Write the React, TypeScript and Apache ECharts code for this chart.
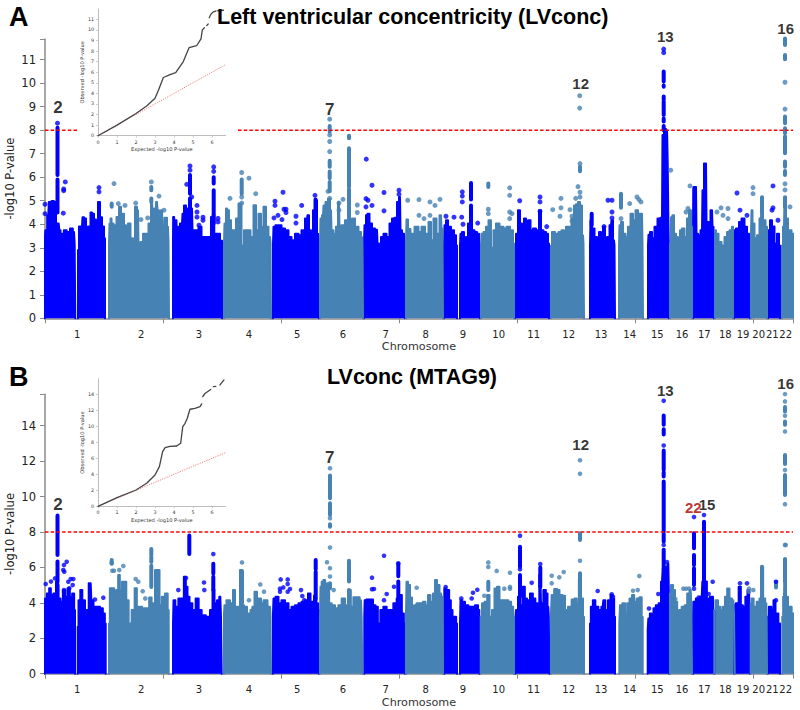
import React, { useEffect, useRef } from "react";
import * as echarts from "echarts";

const BLUE = "#0000FF";
const STEEL = "#4682B4";
const AXIS_GREY = "#8a8a8a";

// Genome position axis: one tick step = 118 position units
const positionTicks = [0, 118, 236, 354, 472, 590, 708, 748];
const chromLabelPositions = [32.3, 96.3, 154, 204, 252.3, 298, 340.7, 380.7, 418, 453.7, 488.7, 523.7, 556, 584.7, 612.3, 637, 659.3, 680.3, 698, 713.7, 727.3, 740.7];
const chromNames = ["1", "2", "3", "4", "5", "6", "7", "8", "9", "10", "11", "12", "13", "14", "15", "16", "17", "18", "19", "20", "21", "22"];
const yTicksA = [0, 1, 2, 3, 4, 5, 6, 7, 8, 9, 10, 11];
const yTicksB = [0, 2, 4, 6, 8, 10, 12, 14];
const qqXTicks = [0, 1, 2, 3, 4, 5, 6];
const qqYTicksA = [0, 1, 2, 3, 4, 5, 6, 7, 8, 9, 10, 11];
const qqYTicksB = [0, 2, 4, 6, 8, 10, 12, 14];

// ---- Panel A: envelopes of the dense point clouds, [position, -log10 P]
const blueRidgesA = [
  [[-0.3, 3.32], [1, 3.74], [3.3, 4.38], [4.3, 4.95], [6, 4.03], [7, 4.99], [9, 4.99], [10.3, 4.95], [11.7, 4.03], [13.7, 4.03], [15, 3.74], [16, 3.25], [17.7, 3.6], [20, 3.74], [23.3, 3.67], [26.7, 3.82], [29, 3.67], [30.3, 3.18]],
  [[33, 2.9], [35, 3.9], [37, 3.9], [38, 4.3], [40, 4.25], [42, 3.8], [44, 3.9], [47, 4.5], [48, 4.45], [50, 4.2], [52, 4.05], [54, 4.95], [56, 4.3], [58, 3.9], [60, 3.4]],
  [[128, 3.18], [128.3, 4.31], [130, 4.17], [133, 3.89], [137, 4.03], [138, 4.45], [140, 4.8], [142, 4.45], [143, 4.67], [145, 4.38], [147, 4.67], [148, 3.74], [152, 3.74], [155, 3.89], [158, 3.46], [162, 3.46], [165, 3.46], [167, 4.31], [168.5, 4.4], [170, 3.6], [173, 3.6], [177, 3.3]],
  [[228, 3.18], [229, 3.89], [232, 3.96], [235, 3.96], [238, 3.82], [242, 3.74], [245, 3.46], [248, 3.32], [252, 3.6], [255, 3.53], [258, 3.74], [262, 4.24], [263, 4.38], [265, 3.74], [267, 3.6], [269, 4.6], [271, 5.02], [273, 3.6], [274, 3.18]],
  [[319, 3.18], [320, 3.96], [322, 4.38], [323, 4.45], [326, 4.03], [328, 3.82], [332, 3.77], [333, 3.18], [335, 2.96], [337, 3.46], [340, 3.6], [343, 3.46], [346, 4.03], [348, 4.24], [351, 4.28], [353, 4.95], [355, 5.16], [356, 3.74], [358, 3.6], [360, 3.18]],
  [[399, 3.1], [400, 3.96], [402, 4.17], [404, 3.89], [408, 3.74], [410, 3.53], [412, 3.1]],
  [[415, 3.1], [416, 3.6], [418, 3.67], [420, 3.32], [422, 3.46], [424, 4.03], [426, 4.5], [428, 3.74], [431, 3.67], [433, 3.6], [435, 3.1]],
  [[470, 3.1], [472, 3.6], [474, 4.6], [476, 4.03], [478, 3.74], [480, 4.24], [482, 3.74], [484, 4.17], [487, 3.74], [489, 3.82], [493, 3.74], [495, 4.6], [497, 3.74], [500, 3.67], [502, 3.6], [504, 3.18]],
  [[545, 3.1], [546, 4.17], [548, 3.82], [551, 3.46], [553, 3.32], [555, 3.67], [557, 3.46], [559, 3.89], [561, 3.32], [563, 3.46], [566, 3.96], [567, 4.17], [569, 3.32], [570, 3.1]],
  [[603, 3.1], [604, 3.55], [606, 3.67], [608, 3.4], [611, 3.89], [614, 4.24], [617, 4.28], [618, 7.8], [620, 8.05], [622, 8], [622.5, 7.6], [623, 6.5], [623.5, 4.5], [624, 3.2]],
  [[648, 3.46], [649, 5.59], [651, 5.59], [652, 3.6], [654, 3.53], [657, 3.74], [658, 5.45], [660, 6.58], [661, 6.58], [662, 4.03], [664, 4.1], [667, 4.6], [668, 3.89], [669, 3.18]],
  [[689, 3.74], [693, 3.82], [695, 4.1], [698, 4.24], [701, 3.89], [703, 3.6], [705, 3.32]],
  [[723, 3], [724, 3.74], [726, 4.17], [728, 3.9], [731, 3.18], [733, 3.6], [735, 3.1]],
];
const steelRidgesA = [
  [[64, 3.18], [65, 4.03], [66, 4.25], [67, 4.03], [70, 3.96], [73, 4.31], [75, 4.74], [77, 4.17], [78, 4.45], [80, 3.96], [82, 3.74], [84, 4.03], [87, 3.4], [89, 3.18], [91, 4.74], [93, 4.6], [94, 3.18], [97, 3.25], [99, 3.6], [102, 3.6], [105, 4.03], [107, 5.02], [108, 4.45], [110, 4.67], [112, 4.95], [113, 4.6], [115, 3.89], [117, 4.6], [118, 3.89], [121, 4.28], [123, 3.89], [124, 3.18]],
  [[179, 3.2], [180, 4.03], [182, 4.67], [183, 4.6], [185, 4.17], [187, 3.74], [190, 3.74], [192, 4.24], [195, 4.88], [198, 3.1], [200, 3.74], [202, 3.74], [204, 3.74], [207, 3.46], [210, 4.81], [212, 3.74], [215, 4.45], [217, 3.89], [220, 4.74], [222, 3.89], [225, 3.46], [226, 3.18]],
  [[275, 3.18], [276, 4.24], [278, 4.38], [279, 4.8], [282, 4.95], [284, 5.09], [286, 4.6], [287, 3.74], [290, 3.6], [292, 3.89], [294, 4.95], [295, 3.89], [298, 3.96], [302, 4.17], [304, 4.6], [306, 4.17], [308, 4.24], [312, 3.89], [315, 3.67], [317, 3.46], [318, 3.1]],
  [[361, 3.3], [362, 4.2], [364, 3.8], [367, 3.6], [372, 3.89], [375, 3.67], [378, 3.89], [382, 3.6], [385, 4.1], [387, 3.32], [390, 4.24], [393, 3.6], [396, 4.38], [397, 3.82], [398, 3.18]],
  [[436, 3.1], [437, 3.6], [440, 3.67], [442, 3.89], [445, 4.17], [447, 3], [450, 3.74], [452, 4.03], [457, 3.89], [460, 3.82], [463, 3.89], [467, 3.74], [469, 3.18]],
  [[506, 3.1], [508, 3.67], [512, 3.6], [515, 3.67], [518, 3.74], [520, 3.1], [522, 3.89], [525, 3.89], [528, 4.24], [530, 4.8], [532, 4.85], [534, 4.95], [536, 4.8], [538, 3.53], [539, 3.18]],
  [[574, 3.1], [575, 3.96], [577, 4.1], [579, 3.6], [582, 3.46], [584, 3.89], [587, 4.45], [589, 4.17], [592, 4.6], [594, 4.45], [597, 4.45], [598, 3.18]],
  [[625, 3.18], [627, 4.3], [628, 4.38], [630, 3.6], [632, 3.46], [634, 3.1], [636, 3.74], [638, 3.82], [641, 3.46], [643, 4.24], [645, 4.6], [647, 3.89]],
  [[670, 3.74], [672, 3.6], [675, 3.25], [678, 3.1], [681, 3.46], [683, 3.67], [686, 3.74], [688, 3.89]],
  [[706, 3.6], [707, 4.6], [708, 4.03], [711, 3.4], [713, 3.53], [716, 4.24], [717, 5.16], [719, 4.17], [722, 3.89]],
  [[737, 3.1], [739, 3.89], [740, 5.16], [742, 4.24], [744, 3.74], [749, 3.6]],
];
// dense stacks of points: [position, low, high]
const blueColumnsA = [
  [12.5, 6.1, 8.1], [12.5, 4.5, 5.9], [145, 5.3, 6.1], [145, 4.4, 5.1], [168.7, 5.73, 6], [168.7, 4.03, 5.45],
  [270.5, 4.3, 5.05], [426, 5.05, 5.75], [426, 4.4, 4.8], [546.7, 3.96, 4.45],
  [618.7, 10.07, 10.5], [618.7, 9.85, 9.9], [618.7, 9.3, 9.43], [618.7, 8.65, 9.22], [618.7, 8.37, 8.5], [618.7, 8, 8.18],
  [660, 4, 6.5], [649.5, 4, 5.5],
];
const steelColumnsA = [
  [66.7, 4.75, 4.88], [106.3, 5.45, 5.59], [106.3, 4.95, 5.1], [196.7, 5.3, 5.9],
  [284.7, 7.95, 8.18], [284.7, 6.45, 6.7], [284.7, 5.96, 6.24], [284.7, 5.4, 5.8], [304, 7.66, 7.76], [304, 5.6, 7.23], [304, 4.3, 5.5],
  [443.3, 5.59, 5.73], [535, 6.25, 6.45], [576, 4.7, 5.3], [717, 4.5, 5.15],
  [740, 11.63, 11.9], [740, 11.02, 11.2], [740, 8.3, 8.58], [740, 7.87, 8.08], [740, 7.02, 7.73], [740, 6.45, 6.67], [740, 6.1, 6.27], [740, 4.75, 5.15],
];
const blueDotsA = [
  [12.5, 8.3], [20.3, 5.8], [18.7, 5.5], [18.7, 5.43], [18.3, 4.47], [0, 4.45], [0, 4.85], [54, 5.56], [54, 5.38],
  [145, 6.48], [145, 6.3], [141.7, 5.7], [146.7, 5.16], [152, 4.8], [152, 4.52], [152, 4.3], [158, 4.3], [158, 4.17], [154, 3.96], [168.7, 6.44], [168.7, 6.25], [173, 4.25], [173, 4.1],
  [230, 4.98], [230, 4.8], [233, 4.38], [229, 4.27], [238, 5.36], [239, 4.64], [241, 4.64], [241, 4.5], [237, 4.2], [256.7, 4.8], [251, 4.34], [251, 4.05], [270, 5.23],
  [321.3, 6.77], [321, 5.09], [323, 5.02], [327, 4.8], [321, 4.74], [327, 5.66], [339, 5.35], [339, 4.57], [354, 5.45], [354, 5.28],
  [401, 4.34], [409, 4.3], [417.3, 5.38], [417.3, 5.2], [417.3, 4.95], [416.7, 4.3], [418, 4], [432.7, 4.05],
  [474.7, 5], [495, 5.16], [495, 4.95], [495, 4.55], [501.7, 3.9], [559, 3.9], [563, 5.02], [567, 5.02], [567, 4.52], [567, 4.27],
  [618.7, 11.45], [618.7, 11.3], [692, 5.33], [695, 4.6], [702, 4.38], [728, 5.63], [727, 4.6], [728, 4.7], [733, 4.17],
];
const steelDotsA = [
  [69, 5.73], [73.3, 4.88], [80, 4.8], [90.7, 4.9], [106.3, 5.8], [114, 5.2], [119, 4.6], [102.7, 4.27], [96, 4.2],
  [204, 5.96], [210.7, 5.3], [185, 5.1], [196.7, 6.2], [196.7, 5.16], [196.7, 4.9],
  [284.7, 8.47], [284.7, 7.8], [284.7, 7.52], [284.7, 7.09], [284.7, 5.1], [283, 5.4], [298, 5.06], [294, 4.9], [294, 4.6], [312.3, 4.82], [312.3, 4.5],
  [362.7, 5.02], [374, 5.05], [385, 4.95], [390, 4.8], [395, 5.06], [374, 4.38], [379, 4.24], [385, 4.38],
  [443.3, 4.64], [443.3, 4.45], [464.7, 5.55], [464.7, 5.23], [464.7, 4.52], [467, 4.45], [464.7, 4.24],
  [534.7, 9.47], [534.7, 8.94], [533, 5.6], [535, 5.36], [535, 5.16], [535, 6.58], [516, 5.1], [516, 4.7], [507.7, 4.62], [515, 4.34], [530.7, 5.1], [527, 4.34], [527, 4.14], [525, 4.62],
  [576, 4.24], [584.7, 4.88], [592, 5.16], [594, 5.05], [596, 4.95], [625.7, 6.3], [645, 5.63], [643, 4.67], [641, 4.52],
  [672, 4.52], [676, 4.7], [678, 4.38], [683, 4.67], [683, 4.24], [708, 5.56], [708, 5.3], [745, 4.74],
  [740, 10.04], [740, 8.9], [740, 5.72], [740, 5.46],
];

// ---- Panel B
const blueRidgesB = [
  [[-0.3, 3.59], [0.3, 4.25], [3.3, 4.53], [5, 4.82], [6.7, 4.44], [10, 4.53], [12, 5.2], [14.3, 4.25], [16.7, 4.06], [19, 4.72], [21.3, 4.34], [23.7, 4.82], [26, 4.34], [28.3, 4.53], [30, 3.59]],
  [[32.7, 2.65], [34.3, 4.15], [36.3, 4.72], [38.3, 4.15], [41.7, 3.59], [45.7, 5.1], [47, 4.15], [50, 3.78], [53.3, 3.78], [56.7, 3.69], [59, 3.4], [60.7, 2.84]],
  [[128, 2.84], [129, 4.15], [131.7, 3.78], [135, 4.25], [137.7, 4.25], [140, 5.47], [141.7, 4.91], [143.3, 4.34], [145.7, 3.97], [149, 3.59], [152.3, 4.25], [155, 3.59], [158.3, 3.3], [163.3, 3.21], [166.7, 3.59], [168.3, 4.72], [170.7, 3.97], [173.3, 4.15], [175.3, 4.34], [176.7, 3.21]],
  [[228, 3.4], [229, 4.25], [232, 4.34], [235, 3.97], [238, 4.15], [242, 3.97], [245, 3.59], [248, 3.78], [252, 3.87], [255, 3.97], [258, 4.06], [262, 4.15], [264, 4.53], [267, 4.06], [271, 4.4], [272, 3.97], [274, 3.59]],
  [[319.3, 3.21], [320, 4.15], [322.7, 4.19], [326.7, 4.19], [329.3, 3.87], [331.7, 3.78], [334, 2.84], [336.7, 3.59], [340, 3.78], [343.3, 3.59], [346.7, 3.59], [350, 3.97], [353.3, 4.25], [356, 4.44], [357.7, 3.4], [360, 2.84]],
  [[399.3, 4.81], [403.3, 4.72], [405, 4.15], [406.7, 3.59], [408.3, 3.21], [410.3, 3.21], [412, 2.84]],
  [[415, 2.84], [416, 4.15], [418.3, 4.06], [421.7, 3.87], [425, 3.78], [428.3, 3.78], [431.7, 3.87], [434.3, 3.59]],
  [[470.3, 3.03], [471.7, 3.59], [474.3, 4.34], [476.7, 3.87], [479, 4.91], [480.7, 4.25], [483.3, 4.15], [486.7, 4.53], [489, 4.25], [491.7, 3.97], [493.3, 3.87], [495.3, 5.57], [496.7, 3.97], [500, 4.72], [501.7, 4.53], [503.3, 3.78], [504.3, 3.21]],
  [[545, 2.84], [546.7, 3.78], [549, 4.15], [551.7, 3.78], [555, 3.59], [557.7, 3.78], [559, 4.15], [561.7, 3.59], [564.3, 4.15], [566.7, 4.44], [568.3, 4.25], [570, 3.21]],
  [[602.7, 2.46], [604, 3.12], [605.7, 3.4], [607.7, 2.84], [609.3, 3.69], [612.3, 3.87], [615, 3.97], [617, 5.19], [618.3, 5.94], [621.7, 6.04], [623.3, 6.2], [624.3, 4.72]],
  [[648, 3.21], [648.7, 4.06], [653, 4.25], [656.7, 4.34], [658, 5.2], [660.5, 5.2], [663.3, 4.25], [666.7, 4.34], [669.3, 3.59]],
  [[689.3, 3.87], [692.3, 3.97], [695, 4.91], [696.7, 3.87], [699, 3.78], [701.7, 4.34], [703.3, 4.72], [705, 3.59]],
  [[722.7, 3.21], [725, 3.78], [727.7, 3.59], [729.3, 4.15], [731.7, 3.4], [735, 2.84]],
];
const steelRidgesB = [
  [[64, 2.84], [65.7, 4.82], [68.3, 4.82], [70, 3.59], [72.3, 4.72], [74, 5.57], [75.7, 4.72], [78.3, 5.19], [80.3, 5.19], [82.3, 4.15], [85, 2.84], [88.3, 3.59], [91, 4.82], [92.7, 3.78], [95, 3.78], [99, 3.69], [103.3, 3.69], [105, 4.3], [108.3, 3.97], [111.7, 5.85], [113.7, 5.85], [115.3, 3.87], [118.3, 4.34], [121.7, 4.53], [123.7, 3.59]],
  [[179, 3.4], [180, 3.87], [183, 4.15], [187, 3.97], [189, 4.72], [191, 3.78], [193, 3.78], [197, 5.85], [198, 3.87], [200, 3.78], [204, 3.4], [207, 3.59], [208, 3.78], [211, 4.63], [213, 4.25], [215, 4.25], [217, 3.97], [220, 4.15], [225, 3.78], [226, 3.21]],
  [[275, 3.21], [276, 4.91], [277.3, 5.19], [279.3, 5.29], [281, 4.81], [283.3, 5.1], [285, 3.97], [288.3, 3.87], [291.7, 3.69], [295, 3.87], [298.3, 4.25], [301.7, 3.87], [305, 4.72], [306.7, 3.78], [310, 4.31], [313.3, 4.31], [316, 4.15], [317.3, 3.21]],
  [[361, 3.4], [362, 5.19], [364, 5], [366, 4.3], [368, 3.78], [370, 3.87], [373, 3.97], [377, 3.97], [379, 4.06], [382, 3.87], [384, 4.44], [387, 4.06], [389, 4.53], [391, 5.29], [393, 5], [396, 4.53], [397, 4.34], [398, 3.21]],
  [[435.7, 3.21], [438.3, 3.97], [441, 4.06], [443.3, 4.44], [445.7, 3.21], [448.3, 3.59], [450.7, 4.81], [453.3, 4.91], [455.7, 4.15], [458.3, 4.15], [461.7, 4.15], [465, 4.06], [467.3, 3.78], [469, 3.21]],
  [[506, 3.4], [507.3, 4.44], [511, 4.78], [513.3, 4.72], [515.7, 4.44], [519, 4.4], [521, 3.59], [525, 3.78], [528.3, 4.19], [530.7, 4.25], [532.7, 3.97], [535, 5.38], [537, 4.25], [539, 3.21]],
  [[574.3, 2.84], [575.7, 3.87], [579, 3.97], [581, 3.4], [583.3, 3.97], [585.7, 4.25], [588.3, 4.44], [590, 4.06], [593.3, 4.25], [595.7, 4.31], [597.7, 3.21]],
  [[625, 4.53], [627, 5], [629, 4.72], [631, 4.06], [633.3, 3.21], [635, 3.59], [638.3, 3.78], [641, 3.87], [643.3, 4.53], [645.7, 4.72], [647, 3.78]],
  [[669.3, 3.59], [671.7, 4.15], [674.3, 3.78], [676.7, 3.59], [679, 3.78], [681, 4.34], [683.3, 4.81], [685.7, 4.25], [688.3, 4.15], [689.7, 3.4]],
  [[705.7, 3.97], [707.3, 4.25], [710, 3.78], [713.3, 4.06], [715.7, 4.25], [717.3, 6.04], [719, 4.25], [721.3, 3.97], [722, 3]],
  [[737.3, 3.21], [739, 4.34], [740.3, 6.48], [741.7, 4.34], [744.3, 3.78], [749, 3.4]],
];
const blueColumnsB = [
  [12.5, 6.7, 8.93], [12.5, 5.2, 6.33], [12.5, 4.25, 5], [144.3, 6.75, 7.8], [168.3, 5.66, 6.2], [168.3, 4.72, 5.47],
  [270.7, 5.9, 6.42], [270.7, 4.2, 5.75], [353.3, 5.5, 6.2], [353.3, 4.3, 5.2],
  [475, 6.04, 7.17], [475, 4.34, 5.57], [495.3, 4.9, 6],
  [618.7, 14.05, 14.58], [618.7, 13.5, 13.8], [618.7, 11.5, 12.6], [618.7, 11.13, 11.37], [618.7, 8.02, 10.85], [618.7, 7.46, 7.9], [618.7, 5.95, 7],
  [649, 7.08, 7.93], [649, 6.14, 6.7], [649, 5, 5.95], [659, 8.2, 8.58], [659, 5.2, 8.2],
];
const steelColumnsB = [
  [66.7, 6.2, 6.42], [106.3, 6.7, 7.04], [106.3, 6.3, 6.6], [106.3, 4.9, 6.1], [197, 4, 5.8], [285, 9.9, 11.19], [285, 8.96, 9.62], [285, 8.3, 8.44], [285, 4.82, 5.1],
  [304, 5.2, 6.37], [304, 3.97, 4.73], [443.3, 4.72, 5.19], [535, 7.55, 7.93], [535, 4.44, 5.67],
  [717, 4.3, 6.04], [731, 4.87, 5.19], [740, 11.83, 12.35], [740, 10.09, 11.22], [740, 14.8, 15.05], [740, 5.2, 6.48], [740, 14.05, 14.24],
];
const blueDotsB = [
  [0.7, 5.06], [6, 5.2], [10, 5.38], [21.7, 6.32], [19, 6.13], [18.3, 5.85], [19.3, 5.76], [25.7, 5.34], [28.3, 5.34], [23.3, 5.19], [27.7, 5], [24.3, 4.82], [19, 4.72], [50, 4.19], [58.3, 4.29],
  [159, 5.15], [168.3, 6.75], [159.3, 4.72], [133.3, 4.72], [141, 5.4],
  [235.7, 5.32], [242.7, 5.32], [242.7, 5.06], [238.3, 4.87], [245, 4.78], [242.7, 4.63], [256, 4.72], [257.3, 4.38], [259.3, 4.15], [235, 4.8], [235, 4.63],
  [339, 6.66], [327, 5.42], [327, 4.76], [329, 4.78], [341.7, 4.5], [339, 4.15], [349, 4.91], [353.3, 6.23], [400.7, 4.89],
  [416.3, 4.25], [426.7, 4.25], [428, 4.57], [432.3, 4.74], [475, 7.79], [475, 5.89], [495.3, 6.19], [486.7, 5.13],
  [552.7, 4.67], [566.7, 4.48], [568, 4.35], [618.7, 15.4], [618.7, 12.88], [618.7, 7.27], [622, 6.3], [613.3, 4.5], [604, 3.68],
  [649, 8.84], [659, 8.96], [649, 4.8], [667.7, 5.19], [653.7, 4.3], [663.7, 4.5], [695, 5.1], [702, 5.1], [731, 4.15], [731, 5.19],
];
const steelDotsB = [
  [66.7, 6.25], [67.3, 5.81], [69, 5.81], [74.3, 5.85], [78.3, 6.08], [90.7, 5.34], [93.3, 5.19], [97.7, 4.66], [100.3, 4.25],
  [197, 6.28], [215.3, 5.04], [219, 4.63], [204, 4.15],
  [285, 11.6], [285, 8.78], [285, 7.12], [282, 6.29], [285, 5.95], [285, 5.48], [288.7, 4.72], [371.7, 4.85],
  [443.3, 6.28], [443.3, 6.02], [439.3, 4.4], [451.7, 5.8], [465, 5.7], [465, 4.9], [465, 4.8], [459.3, 4.8],
  [535, 12.05], [535, 11.28], [535, 6.37], [506.7, 5.53], [506.7, 5.1], [514.3, 5.44], [518.7, 5.74],
  [594.3, 5.51], [592.7, 4.72], [588, 4.68], [638.3, 4.8], [641, 4.8], [644, 4.81], [630.3, 4.21], [708.3, 4.72], [704, 4.8], [704, 4.63],
  [740, 15.78], [740, 15.37], [740, 14.56], [740, 13.67], [740, 11.5], [740, 9.57], [740, 7.27], [740.7, 7.26],
];

// ---- Significance line segments (the first panel's line stops behind its inset)
const sigA = [[0, 8], [32, 8], ["-", "-"], [193, 8], [748, 8]];
const sigB = [[0, 8], [748, 8]];

// ---- Locus numbers: [position, value, text]
const lociBigA = [[13, 8.98, "2"], [284.7, 8.9, "7"]];
const lociA = [[535.7, 9.97, "12"], [620.3, 11.99, "13"], [740.7, 12.34, "16"]];
const lociBigB = [[13, 9.53, "2"], [284.7, 12.2, "7"]];
const lociB = [[535.7, 12.92, "12"], [620.3, 15.97, "13"], [740.7, 16.38, "16"], [662, 9.57, "15"]];
const lociRedB = [[648.3, 9.38, "22"]];

// ---- QQ insets: [expected, observed]
const qqA = [[0, 0], [1, 1], [2, 2.1], [2.56, 2.8], [3, 3.53], [3.18, 4.3], [3.44, 5.5], [3.79, 5.77], [4.09, 5.96], [4.49, 7], [4.79, 8.32], [5.19, 8.5], [5.42, 9.15], [5.49, 10], [5.6, 10.2], ["-", "-"], [5.72, 10.4], [5.8, 10.55], ["-", "-"], [5.85, 11.15], [5.95, 11.5], [6.07, 11.7], [6.2, 11.78], ["-", "-"], [6.28, 11.8], [6.6, 11.85]];
const qqB = [[0, 0], [1, 1.08], [2, 2.04], [2.56, 2.88], [3, 3.92], [3.23, 4.96], [3.4, 6.83], [3.53, 7.33], [3.79, 7.5], [4.14, 7.54], [4.35, 7.88], [4.46, 9.96], [4.58, 10.38], [4.7, 11], [4.84, 12.13], [5.1, 12.25], [5.37, 12.46], [5.46, 12.8], ["-", "-"], [5.51, 13.7], [5.63, 14.1], [5.93, 14.6], ["-", "-"], [6.07, 14.96], [6.2, 15], ["-", "-"], [6.42, 15.17], [6.63, 15.8]];
const qqDiagonal = [[0, 0], [6.72, 6.72]];

const GAP = ["-", "-"];
const ridgeData = (segments: number[][][]) =>
  segments.flatMap((seg) => [[seg[0][0], 0], ...seg, [seg[seg.length - 1][0], 0], GAP]);
const columnData = (cols: number[][]) => cols.flatMap(([x, lo, hi]) => [[x, lo], [x, hi], GAP]);

const ridgeSeries = (segments: number[][][], color: string, axisIndex: number) => ({
  type: "line", xAxisIndex: axisIndex, yAxisIndex: axisIndex, data: ridgeData(segments), clip: false, showSymbol: false, symbol: "none", step: "middle",
  lineStyle: { color, width: 2, cap: "round", join: "round" }, areaStyle: { color, opacity: 1 }, z: 2, silent: true,
});
const columnSeries = (cols: number[][], color: string, axisIndex: number, width: number) => ({
  type: "line", xAxisIndex: axisIndex, yAxisIndex: axisIndex, data: columnData(cols), clip: false, showSymbol: false, symbol: "none",
  lineStyle: { color, width, cap: "round" }, z: 3, silent: true,
});
const dotSeries = (dots: number[][], color: string, axisIndex: number, size: number) => ({
  type: "scatter", xAxisIndex: axisIndex, yAxisIndex: axisIndex, data: dots, clip: false, symbolSize: size, itemStyle: { color }, z: 3, silent: true,
});
const sigSeries = (data: any[], axisIndex: number) => ({
  type: "line", xAxisIndex: axisIndex, yAxisIndex: axisIndex, data, clip: false, showSymbol: false, symbol: "none",
  lineStyle: { color: "#FF0000", width: 1.5, type: [3.5, 2.2] }, z: 5, silent: true,
});
const lociSeries = (loci: any[], axisIndex: number, color: string, fontWeight: string, fontSize: number) => ({
  type: "scatter", xAxisIndex: axisIndex, yAxisIndex: axisIndex, clip: false, symbolSize: 1, itemStyle: { color: "transparent" }, z: 6, silent: true,
  data: loci.map(([x, y, name]) => ({ value: [x, y], name })),
  label: { show: true, position: "inside", formatter: "{b}", color, textBorderWidth: 0, fontFamily: "Liberation Sans", fontWeight, fontSize },
});
const qqLine = (data: any[], axisIndex: number) => ({
  type: "line", xAxisIndex: axisIndex, yAxisIndex: axisIndex, data, clip: false, showSymbol: false, symbol: "none",
  lineStyle: { color: "#444444", width: 1.3, cap: "round" }, z: 4, silent: true,
});
const qqDiag = (axisIndex: number) => ({
  type: "line", xAxisIndex: axisIndex, yAxisIndex: axisIndex, data: qqDiagonal, clip: false, showSymbol: false, symbol: "none",
  lineStyle: { color: "#F06060", width: 0.8, type: [1.2, 1.2] }, z: 3, silent: true,
});

const mainX = (gridIndex: number) => ({
  type: "value", gridIndex, min: 0, max: 748, name: "Chromosome", nameLocation: "middle", nameGap: 23, nameMoveOverlap: false,
  nameTextStyle: { fontFamily: "DejaVu Sans", fontSize: 11.2, color: "#333333" },
  axisLine: { show: true, onZero: false, lineStyle: { color: AXIS_GREY, width: 1.5 } },
  axisTick: { show: true, length: 5, customValues: positionTicks, lineStyle: { color: AXIS_GREY, width: 1 } },
  axisLabel: {
    show: true, customValues: chromLabelPositions, margin: 11, hideOverlap: false, showMinLabel: true, showMaxLabel: true,
    fontFamily: "DejaVu Sans", fontSize: 10, color: "#222222",
    formatter: (v: number) => chromNames[chromLabelPositions.indexOf(v)] ?? "",
  },
  splitLine: { show: false },
});
const mainY = (gridIndex: number, max: number, ticks: number[]) => ({
  type: "value", gridIndex, min: 0, max, name: "-log10 P-value", nameLocation: "middle", nameGap: 29, nameMoveOverlap: false,
  nameTextStyle: { fontFamily: "DejaVu Sans", fontSize: 11.5, color: "#222222" },
  axisLine: { show: true, onZero: false, lineStyle: { color: AXIS_GREY, width: 1.5 } },
  axisTick: { show: true, length: 5, customValues: [...ticks, max], lineStyle: { color: AXIS_GREY, width: 1 } },
  axisLabel: { show: true, customValues: ticks, margin: 9, showMinLabel: true, showMaxLabel: true, fontFamily: "DejaVu Sans", fontSize: 11.5, color: "#222222" },
  splitLine: { show: false },
});
const insetX = (gridIndex: number) => ({
  type: "value", gridIndex, min: 0, max: 6.72, name: "Expected -log10 P-value", nameLocation: "middle", nameGap: 11, nameMoveOverlap: false,
  nameTextStyle: { fontFamily: "DejaVu Sans", fontSize: 5.1, color: "#333333" },
  axisLine: { show: true, onZero: false, lineStyle: { color: "#bdbdbd", width: 1 } },
  axisTick: { show: true, length: 2, customValues: qqXTicks, lineStyle: { color: "#bdbdbd", width: 0.7 } },
  axisLabel: { show: true, customValues: qqXTicks, margin: 4, fontFamily: "DejaVu Sans", fontSize: 4.8, color: "#333333" },
  splitLine: { show: false },
});
const insetY = (gridIndex: number, max: number, ticks: number[]) => ({
  type: "value", gridIndex, min: 0, max, name: "Observed -log10 P-value", nameLocation: "middle", nameGap: 13.5, nameMoveOverlap: false,
  nameTextStyle: { fontFamily: "DejaVu Sans", fontSize: 5.1, color: "#333333" },
  axisLine: { show: true, onZero: false, lineStyle: { color: "#bdbdbd", width: 1 } },
  axisTick: { show: true, length: 2, customValues: ticks, lineStyle: { color: "#bdbdbd", width: 0.7 } },
  axisLabel: { show: true, customValues: ticks, margin: 4, fontFamily: "DejaVu Sans", fontSize: 4.8, color: "#333333" },
  splitLine: { show: false },
});
const titleText = (text: string, left: number, top: number, fontSize: number) => ({
  text, left, top, padding: 0,
  textStyle: { fontFamily: "Liberation Sans", fontWeight: "bold", fontSize, color: "#000000" },
});

export default function App() {
  const ref = useRef<HTMLDivElement>(null);
  useEffect(() => {
    document.body.style.margin = "0";
    const chart = echarts.init(ref.current!, null, { renderer: "svg" });
    chart.setOption({
      animation: false,
      backgroundColor: "#ffffff",
      title: [
        titleText("A", 9, 3, 27),
        titleText("Left ventricular concentricity (LVconc)", 217, 6, 21.5),
        titleText("B", 9, 363, 27),
        titleText("LVconc (MTAG9)", 327, 366, 21.5),
      ],
      grid: [
        { left: 45, top: 39, width: 748, height: 279.3, outerBoundsMode: "none" },
        { left: 98, top: 9, width: 127.7, height: 126.7, outerBoundsMode: "none" },
        { left: 45, top: 394.3, width: 748, height: 279.4, outerBoundsMode: "none" },
        { left: 98, top: 378.7, width: 127.7, height: 127.6, outerBoundsMode: "none" },
      ],
      xAxis: [mainX(0), insetX(1), mainX(2), insetX(3)],
      yAxis: [mainY(0, 11.88, yTicksA), insetY(1, 11.97, qqYTicksA), mainY(2, 15.77, yTicksB), insetY(3, 15.95, qqYTicksB)],
      series: [
        ridgeSeries(blueRidgesA, BLUE, 0),
        ridgeSeries(steelRidgesA, STEEL, 0),
        columnSeries(blueColumnsA, BLUE, 0, 4),
        columnSeries(steelColumnsA, STEEL, 0, 4),
        dotSeries(blueDotsA, BLUE, 0, 5),
        dotSeries(steelDotsA, STEEL, 0, 5),
        sigSeries(sigA, 0),
        lociSeries(lociBigA, 0, "#000000", "bold", 17),
        lociSeries(lociA, 0, "#000000", "bold", 15),
        qqDiag(1),
        qqLine(qqA, 1),
        ridgeSeries(blueRidgesB, BLUE, 2),
        ridgeSeries(steelRidgesB, STEEL, 2),
        columnSeries(blueColumnsB, BLUE, 2, 4),
        columnSeries(steelColumnsB, STEEL, 2, 4),
        dotSeries(blueDotsB, BLUE, 2, 4.6),
        dotSeries(steelDotsB, STEEL, 2, 4.6),
        sigSeries(sigB, 2),
        lociSeries(lociBigB, 2, "#000000", "bold", 17),
        lociSeries(lociB, 2, "#000000", "bold", 15),
        lociSeries(lociRedB, 2, "#A80000", "bold", 15),
        qqDiag(3),
        qqLine(qqB, 3),
      ],
    });
    return () => chart.dispose();
  }, []);
  return <div ref={ref} style={{ position: "absolute", left: 0, top: 0, width: 800, height: 710 }} />;
}
